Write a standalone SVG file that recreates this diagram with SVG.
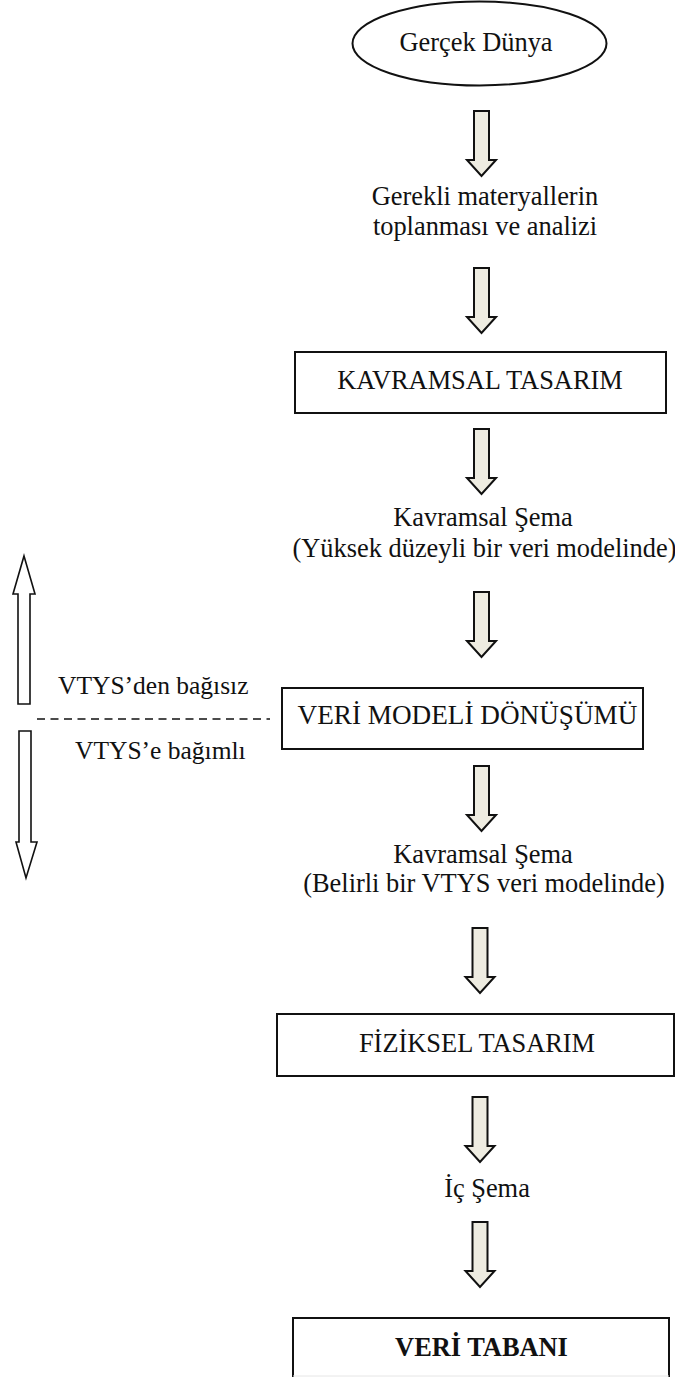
<svg xmlns="http://www.w3.org/2000/svg" width="675" height="1377" viewBox="0 0 675 1377">
<style>
text{font-family:"Liberation Serif","Times New Roman",serif;font-size:26.4px;fill:#111}
.c{text-anchor:middle}
.box{fill:#fff;stroke:#111;stroke-width:2}
.arr{fill:#eeece1;stroke:#111;stroke-width:2;stroke-linejoin:miter}
.side{fill:#fff;stroke:#111;stroke-width:1.6}
.dash{stroke:#111;stroke-width:1.6;stroke-dasharray:8 5.5;fill:none}
</style>
<defs>
<path id="da" d="M-7.5,0 H7.5 V49 H14.5 L0,65 L-14.5,49 H-7.5 Z"/>
</defs>
<rect width="675" height="1377" fill="#fff"/>
<g id="connectors">
<use href="#da" class="arr" x="481.5" y="111"/>
<use href="#da" class="arr" x="481.5" y="268"/>
<use href="#da" class="arr" x="481.5" y="429"/>
<use href="#da" class="arr" x="481.5" y="592"/>
<use href="#da" class="arr" x="481.5" y="766"/>
<use href="#da" class="arr" x="480" y="928"/>
<use href="#da" class="arr" x="480" y="1097"/>
<use href="#da" class="arr" x="480" y="1222"/>
<path class="side" d="M24,556 L35,594 H30 V704 H18 V594 H13 Z"/>
<path class="side" d="M19,731 H31 V842 H37 L26,878 L16,842 H19 Z"/>
<line class="dash" x1="37" y1="719" x2="270" y2="719"/>
</g>
<g id="gercek-dunya">
<ellipse cx="479.5" cy="43.5" rx="127" ry="42" fill="#fff" stroke="#111" stroke-width="2"/>
<text class="c" x="476" y="51">Gerçek Dünya</text>
</g>
<g id="gerekli">
<text class="c" x="485" y="205">Gerekli materyallerin</text>
<text class="c" x="485" y="235">toplanması ve analizi</text>
</g>
<g id="kavramsal-tasarim">
<rect class="box" x="295" y="352" width="371" height="61"/>
<text class="c" x="480" y="389">KAVRAMSAL TASARIM</text>
</g>
<g id="kavramsal-sema-1">
<text class="c" x="483" y="526">Kavramsal Şema</text>
<text class="c" x="484.5" y="557">(Yüksek düzeyli bir veri modelinde)</text>
</g>
<g id="vtys-labels">
<text x="58" y="694" font-size="25.5" style="font-size:25.5px">VTYS’den bağısız</text>
<text x="75" y="759" font-size="25.5" style="font-size:25.5px">VTYS’e bağımlı</text>
</g>
<g id="veri-modeli-donusumu">
<rect class="box" x="282" y="688" width="361" height="61"/>
<text class="c" x="467.5" y="724" style="font-size:27.2px">VERİ MODELİ DÖNÜŞÜMÜ</text>
</g>
<g id="kavramsal-sema-2">
<text class="c" x="483" y="863">Kavramsal Şema</text>
<text class="c" x="484" y="892">(Belirli bir VTYS veri modelinde)</text>
</g>
<g id="fiziksel-tasarim">
<rect class="box" x="277" y="1014" width="397" height="62"/>
<text class="c" x="477" y="1052">FİZİKSEL TASARIM</text>
</g>
<g id="ic-sema">
<text class="c" x="487" y="1197">İç Şema</text>
</g>
<g id="veri-tabani">
<path d="M293,1377 V1318 H669 V1377" fill="#fff" stroke="#111" stroke-width="2"/>
<line x1="293" y1="1376" x2="669" y2="1376" stroke="#e6e6e6" stroke-width="1"/>
<text class="c" x="481.5" y="1356" font-weight="bold">VERİ TABANI</text>
</g>
</svg>
